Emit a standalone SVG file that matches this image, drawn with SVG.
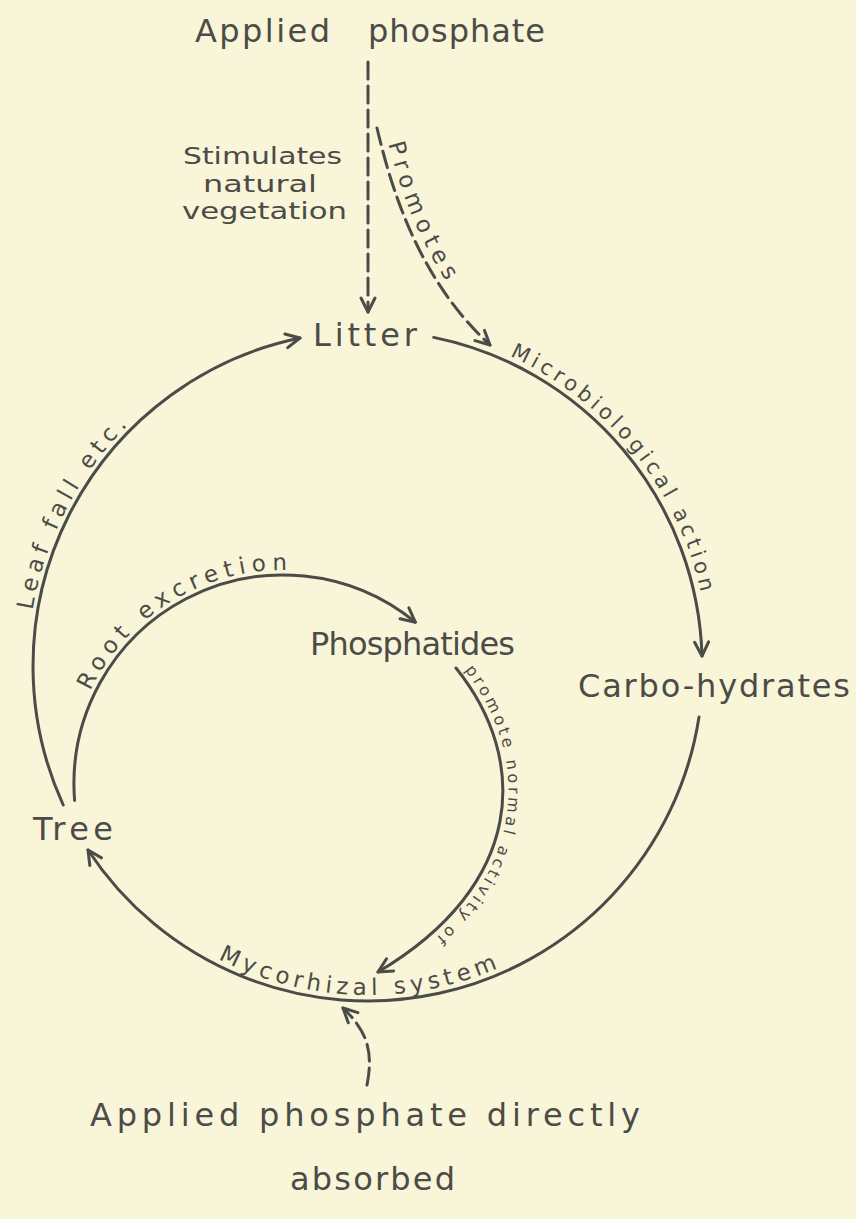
<svg xmlns="http://www.w3.org/2000/svg" width="856" height="1219" viewBox="0 0 856 1219">
<style>
.bg{fill:#f8f5d8}
.ln{fill:none;stroke:#4b4b47;stroke-width:3;stroke-linecap:round}
.dash{stroke-dasharray:17 7}
.t{font-family:"DejaVu Sans","Liberation Sans",sans-serif;fill:#4b4b47}
.big{font-size:32px}
.mid{font-size:23px}
.lab{font-size:23px}
.lab2{font-size:21px}
.sm{font-size:16px}
.guide{fill:none;stroke:none}
</style>
<defs>
<marker id="ah" markerUnits="userSpaceOnUse" viewBox="0 0 18 18" refX="16" refY="9" markerWidth="18" markerHeight="18" orient="auto">
<path d="M2,2 L16,9 L2,16" fill="none" stroke="#4b4b47" stroke-width="3" stroke-linecap="round" stroke-linejoin="round" stroke-dasharray="none"/>
</marker>
<path id="pLeaf" class="guide" d="M 28 666 A 340 340 0 0 1 368 326"/>
<path id="pMicro" class="guide" d="M 368 325 A 341 341 0 0 1 709 666"/>
<path id="pMyco" class="guide" d="M 156.5 918 A 329 329 0 0 0 579.5 918"/>
<path id="pRoot" class="guide" d="M 69 784 A 214 214 0 0 1 390 598.7"/>
<path id="pProm" class="guide" d="M 384 126 C 402 203, 432 281, 496 340"/>
<path id="pNorm" class="guide" d="M 461 665 C 536 758, 531 888, 382 977"/>
</defs>
<rect class="bg" x="0" y="0" width="856" height="1219"/>

<g id="connectors">
<path id="c-applied-litter" class="ln dash" d="M 368 62 L 368 312" marker-end="url(#ah)"/>
<path id="c-promotes" class="ln dash" d="M 377 128 C 395 205, 425 285, 490 345" marker-end="url(#ah)"/>
<path id="c-leaffall" class="ln" d="M 63.2 805 A 335 335 0 0 1 300 338" marker-end="url(#ah)"/>
<path id="c-micro" class="ln" d="M 433.7 337.4 A 335 335 0 0 1 702 656" marker-end="url(#ah)"/>
<path id="c-myco" class="ln" d="M 699 717 A 335 335 0 0 1 88 850" marker-end="url(#ah)"/>
<path id="c-root" class="ln" d="M 74.6 800.4 A 209 209 0 0 1 415.3 622.2" marker-end="url(#ah)"/>
<path id="c-normal" class="ln" d="M 456 668 C 530 760, 525 885, 378 972" marker-end="url(#ah)"/>
<path id="c-direct" class="ln dash" d="M 367 1085 C 374 1050, 366 1030, 343 1008" marker-end="url(#ah)"/>
</g>

<g id="edge-labels">
<text class="t mid" x="183" y="164" textLength="159" lengthAdjust="spacingAndGlyphs">Stimulates</text>
<text class="t mid" x="203" y="192" textLength="114" lengthAdjust="spacingAndGlyphs">natural</text>
<text class="t mid" x="182" y="219" textLength="165" lengthAdjust="spacingAndGlyphs">vegetation</text>
<text class="t lab"><textPath href="#pProm" startOffset="18" textLength="150" lengthAdjust="spacing">Promotes</textPath></text>
<text class="t lab"><textPath href="#pLeaf" startOffset="56" textLength="211" lengthAdjust="spacing">Leaf  fall  etc.</textPath></text>
<text class="t lab2"><textPath href="#pMicro" startOffset="146" textLength="315" lengthAdjust="spacing">Microbiological  action</textPath></text>
<text class="t lab"><textPath href="#pRoot" startOffset="96" textLength="244" lengthAdjust="spacing">Root  excretion</textPath></text>
<text class="t sm"><textPath href="#pNorm" startOffset="6" textLength="300" lengthAdjust="spacing">promote normal  activity  of</textPath></text>
<text class="t lab"><textPath href="#pMyco" startOffset="74" textLength="289" lengthAdjust="spacing">Mycorhizal  system</textPath></text>
</g>

<g id="node-applied-top">
<text class="t big" y="42"><tspan x="195" textLength="135" lengthAdjust="spacing">Applied</tspan> <tspan x="368" textLength="177" lengthAdjust="spacing">phosphate</tspan></text>
</g>
<g id="node-litter">
<text class="t big" x="313" y="346" textLength="104" lengthAdjust="spacing">Litter</text>
</g>
<g id="node-carbo">
<text class="t big" x="578" y="697" textLength="272" lengthAdjust="spacing">Carbo-hydrates</text>
</g>
<g id="node-phosphatides">
<text class="t big" x="310" y="655" textLength="205" lengthAdjust="spacing">Phosphatides</text>
</g>
<g id="node-tree">
<text class="t big" x="33" y="840" textLength="80" lengthAdjust="spacing">Tree</text>
</g>
<g id="node-applied-direct">
<text class="t big" x="90" y="1126" textLength="550" lengthAdjust="spacing">Applied phosphate directly</text>
<text class="t big" x="290" y="1190" textLength="165" lengthAdjust="spacing">absorbed</text>
</g>
</svg>
